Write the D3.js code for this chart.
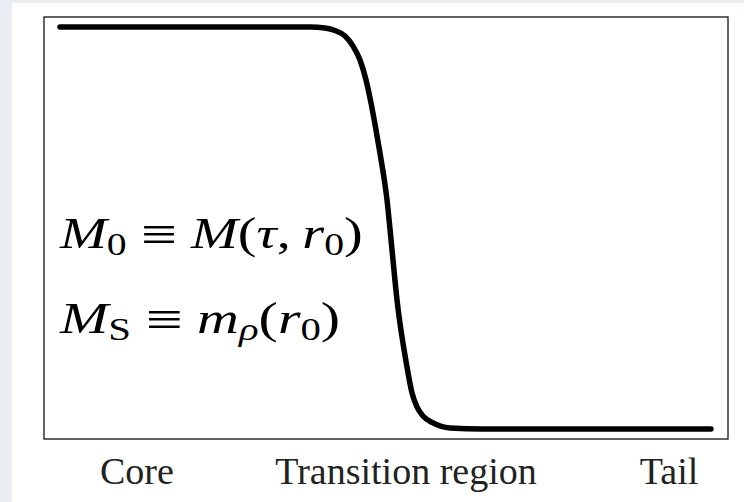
<!DOCTYPE html>
<html>
<head>
<meta charset="utf-8">
<script src="https://cdn.jsdelivr.net/npm/d3@7"></script>
<style>
  html, body { margin: 0; padding: 0; background: #eaeef2; }
  svg { display: block; }
</style>
</head>
<body>
<svg id="chart" width="744" height="502"></svg>
<script>
// Profile of M(r): flat core value, steep drop through the transition, flat tail.
// r is the normalised radius (0..1 across the frame), value is normalised M.
const radius = [0.0234, 0.2281, 0.3889, 0.4108, 0.4254, 0.4401, 0.4518, 0.4620, 0.4708, 0.4781,
                0.4854, 0.4912, 0.5015, 0.5088, 0.5161, 0.5307, 0.5380, 0.5453, 0.5541, 0.5687,
                0.5936, 0.6418, 0.8129, 0.9751];
const profile = [1.000, 1.000, 1.000, 0.9975, 0.9913, 0.9776, 0.9527, 0.9179, 0.8682, 0.8109,
                 0.7438, 0.6866, 0.5697, 0.4453, 0.3209, 0.1542, 0.0896, 0.0547, 0.0323, 0.0149,
                 0.0025, 0.000, 0.000, 0.000];

// Region names along the horizontal axis and where they sit
const regions = ["Core", "Transition region", "Tail"];
const regionAt = [0.135, 0.5285, 0.913];

// Definitions written inside the core region: [r, M] anchor, right end, rendered pieces
const notes = [
  { at: [0.0234, 0.450], end: 0.466, parts: [
      { t: "M", i: true }, { t: "0", sub: true }, { t: "\u2261", rel: true },
      { t: "M", i: true, gap: true }, { t: "(" }, { t: "\u03C4", i: true }, { t: "," },
      { t: "r", i: true, thin: true }, { t: "0", sub: true }, { t: ")" } ] },
  { at: [0.0234, 0.239], end: 0.433, parts: [
      { t: "M", i: true }, { t: "S", sub: true }, { t: "\u2261", rel: true },
      { t: "m", i: true, gap: true }, { t: "\u03C1", i: true, sub: true }, { t: "(" },
      { t: "r", i: true }, { t: "0", sub: true }, { t: ")" } ] }
];

const svg = d3.select("#chart");
const W = 744, H = 502;
const frame = { left: 44, top: 17, right: 728, bottom: 439 };
const serif = "'Liberation Serif', 'Times New Roman', serif";

// paper panel
svg.append("rect").attr("x", 12).attr("y", 3).attr("width", W - 12).attr("height", H - 3)
  .attr("fill", "#ffffff");

const x = d3.scaleLinear().domain([0, 1]).range([frame.left, frame.right]);
const y = d3.scaleLinear().domain([-0.025, 1.025]).range([frame.bottom, frame.top]);

// plot frame
svg.append("rect")
  .attr("x", x(0)).attr("y", y(1.025))
  .attr("width", x(1) - x(0)).attr("height", y(-0.025) - y(1.025))
  .attr("fill", "none").attr("stroke", "#222").attr("stroke-width", 1.4);

// the profile curve
const pts = radius.map((r, i) => [r, profile[i]]);
const line = d3.line().x(d => x(d[0])).y(d => y(d[1])).curve(d3.curveMonotoneX);
svg.append("path").datum(pts)
  .attr("d", line)
  .attr("fill", "none").attr("stroke", "#000")
  .attr("stroke-width", 5.5).attr("stroke-linecap", "round").attr("stroke-linejoin", "round");

// region labels as a bottom axis without ticks
const axis = d3.axisBottom(x).tickValues(regionAt)
  .tickFormat((d, i) => regions[i]).tickSize(0);
const gAxis = svg.append("g").attr("transform", `translate(0,${y(-0.025)})`).call(axis);
gAxis.select(".domain").remove();
gAxis.selectAll("text")
  .attr("y", 45).attr("dy", 0)
  .attr("fill", "#222")
  .style("font-family", serif)
  .style("font-size", "38px");

// math notes; every piece carries its own vertical offset from the baseline
notes.forEach(n => {
  const txt = svg.append("text")
    .attr("x", x(n.at[0])).attr("y", y(n.at[1]))
    .attr("fill", "#000")
    .attr("textLength", x(n.end) - x(n.at[0]))
    .attr("lengthAdjust", "spacingAndGlyphs")
    .style("font-family", serif)
    .style("font-size", "44px");
  let level = 0;
  n.parts.forEach(p => {
    const ts = txt.append("tspan").text(p.t);
    const want = p.sub ? 7 : p.rel ? 3 : 0;
    if (want !== level) ts.attr("dy", want - level);
    level = want;
    if (p.i) ts.style("font-style", "italic");
    if (p.rel) ts.attr("dx", 11).style("font-size", "50px");
    if (p.gap) ts.attr("dx", 11);
    if (p.thin) ts.attr("dx", 9);
    if (p.sub) ts.style("font-size", "31px");
  });
});
</script>
</body>
</html>
